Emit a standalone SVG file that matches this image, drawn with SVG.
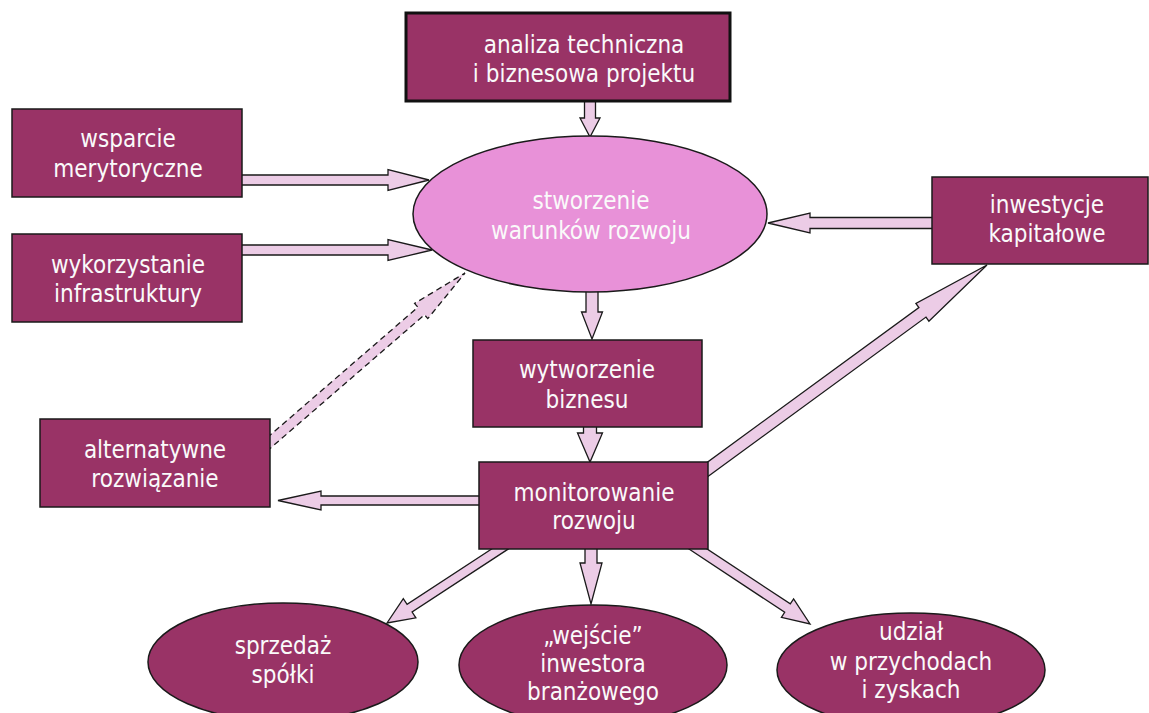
<svg xmlns="http://www.w3.org/2000/svg" width="1149" height="713" viewBox="0 0 1149 713">
<style>
.box{fill:#993366;stroke:#1a1a1a;stroke-width:1.5}
.dark{fill:#993366;stroke:#1a1a1a;stroke-width:1.5}
.light{fill:#e891d8;stroke:#1a1a1a;stroke-width:1.5}
.arr{fill:#eccce6;stroke:#1a1a1a;stroke-width:1.3;stroke-linejoin:miter}
.dash{fill:#eccce6;stroke:#1a1a1a;stroke-width:1.3;stroke-dasharray:6 4}
text{font-family:"DejaVu Sans Condensed","DejaVu Sans",sans-serif;font-size:24px;fill:#fafafa;text-anchor:middle}
</style>
<rect width="1149" height="713" fill="#ffffff"/>
<g id="connectors">
<polygon class="arr" points="584.5,95 584.5,118 580,118 590,137 600,118 595.5,118 595.5,95"/>
<polygon class="arr" points="236,175 388,175 388,169.5 429,180 388,190.5 388,185 236,185"/>
<polygon class="arr" points="236,245 388,245 388,239.5 432,250 388,260.5 388,255 236,255"/>
<polygon class="arr" points="940,217.5 810,217.5 810,213 768,223 810,233 810,228.5 940,228.5"/>
<polygon class="arr" points="586,290 586,312 581.5,312 592,339 602.5,312 598,312 598,290"/>
<polygon class="arr" points="583.5,420 583.5,433 577.5,433 590,462 602.5,433 596.5,433 596.5,420"/>
<polygon class="arr" points="485,496 321,496 321,491 278,500.5 321,510 321,505 485,505"/>
<polygon class="dash" points="266.7,451.4 424.5,314.8 427.8,318.6 465,273 414.6,303.4 417.9,307.2 260.1,443.8"/>
<polygon class="arr" points="703.5,479.8 926,317.1 928.9,321.2 987,265 915.9,303.4 918.9,307.5 696.5,470.2"/>
<polygon class="arr" points="504.2,540.8 407.1,604.4 403.3,598.6 387,623 415.9,617.8 412.1,612 509.2,548.4"/>
<polygon class="arr" points="585,540 585,563 580,563 591,604 602,563 597,563 597,540"/>
<polygon class="arr" points="688.6,548.8 784.7,612.3 781.4,617.3 810,624 793.6,598.9 790.3,603.9 694.1,540.4"/>
</g>
<g id="analiza">
<rect x="406" y="13" width="324" height="88" fill="#993366" stroke="#111" stroke-width="3"/>
<text x="584" y="53">analiza techniczna</text>
<text x="584" y="82">i biznesowa projektu</text>
</g>
<g id="wsparcie">
<rect class="box" x="12" y="109" width="230" height="88"/>
<text x="128" y="147">wsparcie</text>
<text x="128" y="177">merytoryczne</text>
</g>
<g id="wykorzystanie">
<rect class="box" x="12" y="234" width="230" height="88"/>
<text x="128" y="273">wykorzystanie</text>
<text x="128" y="302">infrastruktury</text>
</g>
<g id="stworzenie">
<ellipse class="light" cx="590" cy="214" rx="177" ry="78"/>
<text x="591" y="209">stworzenie</text>
<text x="591" y="239">warunków rozwoju</text>
</g>
<g id="inwestycje">
<rect class="box" x="932" y="177" width="216" height="87"/>
<text x="1047" y="213">inwestycje</text>
<text x="1047" y="242">kapitałowe</text>
</g>
<g id="wytworzenie">
<rect class="box" x="473" y="340" width="229" height="87"/>
<text x="587" y="378">wytworzenie</text>
<text x="587" y="408">biznesu</text>
</g>
<g id="alternatywne">
<rect class="box" x="40" y="419" width="230" height="88"/>
<text x="155" y="458">alternatywne</text>
<text x="155" y="487">rozwiązanie</text>
</g>
<g id="monitorowanie">
<rect class="box" x="479" y="462" width="229" height="87"/>
<text x="594" y="501">monitorowanie</text>
<text x="594" y="529">rozwoju</text>
</g>
<g id="sprzedaz">
<ellipse class="dark" cx="283" cy="662" rx="135" ry="59"/>
<text x="283" y="654">sprzedaż</text>
<text x="283" y="683">spółki</text>
</g>
<g id="wejscie">
<ellipse class="dark" cx="593" cy="665" rx="134" ry="60"/>
<text x="593" y="644">„wejście”</text>
<text x="593" y="672">inwestora</text>
<text x="593" y="700">branżowego</text>
</g>
<g id="udzial">
<ellipse class="dark" cx="911" cy="670" rx="134" ry="57"/>
<text x="911" y="640">udział</text>
<text x="911" y="670">w przychodach</text>
<text x="911" y="698">i zyskach</text>
</g>
</svg>
